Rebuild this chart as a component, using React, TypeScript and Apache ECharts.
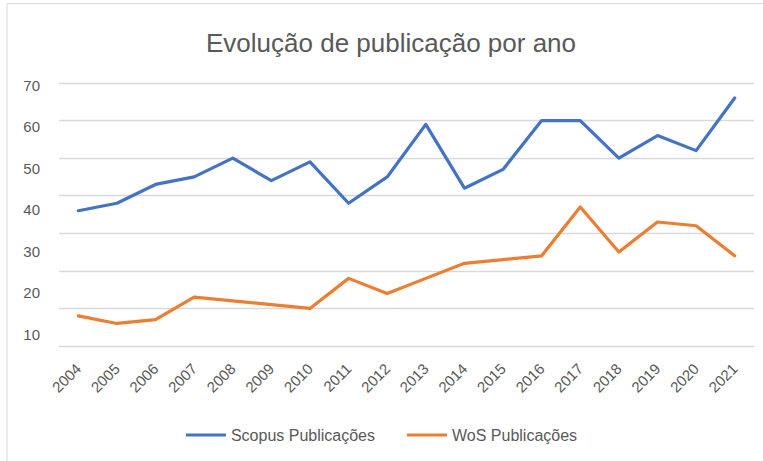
import React, { useEffect, useRef } from "react";
import * as echarts from "echarts";

const years = ["2004","2005","2006","2007","2008","2009","2010","2011","2012","2013","2014","2015","2016","2017","2018","2019","2020","2021"];
const scopus = [36, 38, 43, 45, 50, 44, 49, 38, 45, 59, 42, 47, 60, 60, 50, 56, 52, 66];
const wos = [8, 6, 7, 13, 12, 11, 10, 18, 14, 18, 22, 23, 24, 37, 25, 33, 32, 24];
const yMin = 0;
const yMax = 70;
const yStep = 10;

const FONT = "'Liberation Sans', Arial, sans-serif";
const GRAY = "#595959";

export default function App() {
  const ref = useRef<HTMLDivElement>(null);
  useEffect(() => {
    if (!ref.current) return;
    const chart = echarts.init(ref.current, null, { renderer: "svg" });
    chart.setOption({
      animation: false,
      backgroundColor: "#ffffff",
      title: {
        text: "Evolução de publicação por ano",
        left: 386,
        top: 25,
        textAlign: "center",
        textStyle: { fontFamily: FONT, fontSize: 26, fontWeight: "normal", color: GRAY },
      },
      legend: {
        bottom: 13,
        left: "center",
        itemWidth: 40,
        itemHeight: 3,
        itemGap: 32,
        icon: "rect",
        textStyle: { fontFamily: FONT, fontSize: 16, color: GRAY },
        data: ["Scopus Publicações", "WoS Publicações"],
      },
      graphic: [
        {
          type: "polyline",
          shape: { points: [[7, 461], [7, 3.5], [763, 3.5]] },
          style: { stroke: "#d9d9d9", lineWidth: 1, fill: "none" },
          silent: true,
        },
      ],
      grid: [
        { left: 59, right: 9, top: 83, bottom: 115 },
        { left: 48, right: 9, top: 85, bottom: 85.5 },
      ],
      xAxis: [
        {
          type: "category",
          gridIndex: 0,
          data: years,
          boundaryGap: true,
          axisLine: { show: true, lineStyle: { color: "#d9d9d9", width: 1 } },
          axisTick: { show: false },
          axisLabel: {
            rotate: 45,
            interval: 0,
            margin: 20,
            fontFamily: FONT,
            fontSize: 15,
            color: GRAY,
          },
        },
        {
          type: "category",
          gridIndex: 1,
          data: years,
          show: false,
        },
      ],
      yAxis: [
        {
          type: "value",
          gridIndex: 0,
          min: yMin,
          max: yMax,
          interval: yStep,
          axisLine: { show: false },
          axisTick: { show: false },
          axisLabel: { show: false },
          splitLine: { show: true, lineStyle: { color: "#d9d9d9", width: 1.3 } },
        },
        {
          type: "value",
          gridIndex: 1,
          min: yMin,
          max: yMax,
          interval: yStep,
          axisLine: { show: false },
          axisTick: { show: false },
          splitLine: { show: false },
          axisLabel: {
            margin: 8,
            fontFamily: FONT,
            fontSize: 15,
            color: GRAY,
            formatter: (v: number) => (v === 0 ? "" : String(v)),
          },
        },
      ],
      series: [
        {
          name: "Scopus Publicações",
          type: "line",
          xAxisIndex: 0,
          yAxisIndex: 0,
          data: scopus,
          symbol: "none",
          lineStyle: { color: "#4472C4", width: 3.2, cap: "round", join: "round" },
          itemStyle: { color: "#4472C4" },
        },
        {
          name: "WoS Publicações",
          type: "line",
          xAxisIndex: 0,
          yAxisIndex: 0,
          data: wos,
          symbol: "none",
          lineStyle: { color: "#ED7D31", width: 3.2, cap: "round", join: "round" },
          itemStyle: { color: "#ED7D31" },
        },
      ],
    });
    return () => chart.dispose();
  }, []);
  return (
    <div
      ref={ref}
      style={{ position: "fixed", left: 0, top: 0, width: 763, height: 461, background: "#fff" }}
    />
  );
}
